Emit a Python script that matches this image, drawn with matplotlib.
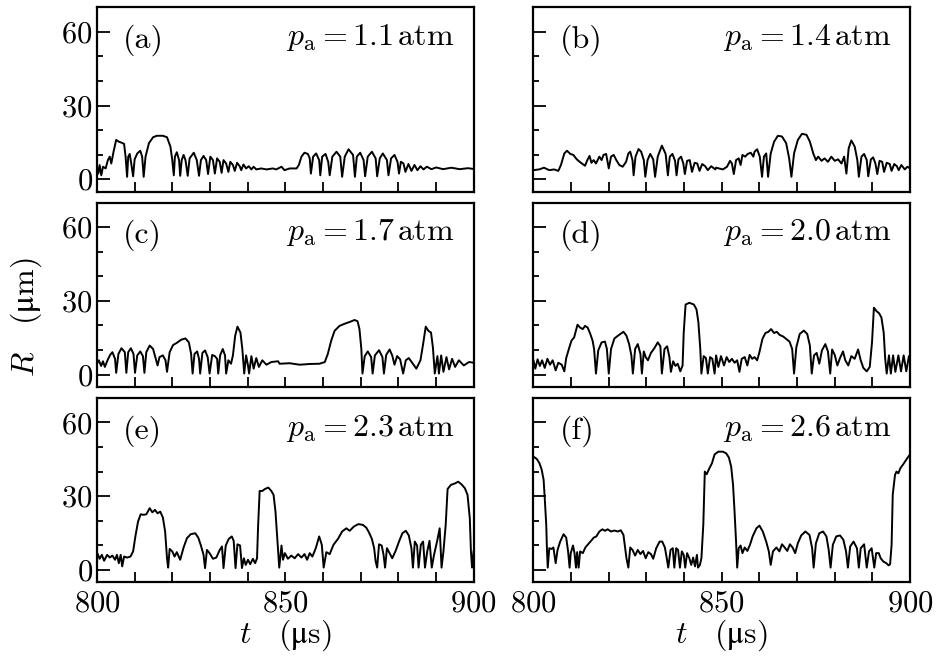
import matplotlib
matplotlib.use("Agg")
import matplotlib.pyplot as plt
from matplotlib.ticker import MultipleLocator

# bubble radius R (um) against time t (us)
t_a = [800.0, 800.35, 800.7, 801.15, 801.6, 802.3, 802.9, 803.4, 803.8, 804.4, 805.1, 805.8, 806.5, 807.2,
       807.6, 808.0, 808.3, 808.7, 809.1, 809.6, 810.0, 810.7, 811.5, 812.0, 812.4, 812.9, 813.8, 814.9,
       815.9, 817.5, 818.6, 819.5, 820.0, 820.4, 820.7, 821.2, 821.8, 822.1, 822.5, 823.0, 823.5, 824.1,
       824.6, 825.7, 826.5, 827.1, 827.6, 828.3, 829.0, 829.5, 830.1, 830.8, 831.3, 831.9, 832.6, 833.1,
       833.6, 834.3, 834.9, 835.4, 836.1, 836.6, 837.2, 837.9, 838.3, 838.9, 839.6, 840.3, 841.0, 841.6,
       842.3, 843.6, 845.0, 846.7, 847.6, 849.0, 849.8, 851.2, 853.0, 853.6, 854.3, 855.1, 856.0, 856.5,
       856.8, 857.4, 858.2, 859.0, 859.3, 859.8, 860.7, 861.4, 861.8, 862.5, 863.6, 864.6, 865.1, 865.8,
       866.8, 868.0, 868.5, 869.0, 869.9, 870.8, 871.2, 871.9, 873.0, 874.0, 874.4, 875.1, 875.9, 877.0,
       877.4, 878.1, 879.0, 879.8, 880.2, 880.7, 881.4, 881.9, 882.7, 883.5, 884.3, 885.1, 885.9, 886.7,
       887.6, 888.8, 890.1, 891.9, 894.1, 896.3, 898.5, 900.0]
r_a = [5.1, 2.3, 5.8, 1.6, 5.1, 4.4, 7.8, 9.2, 6.4, 11.2, 16.0, 15.3, 14.9, 14.4,
       9.2, 1.0, 9.2, 10.3, 6.4, 1.2, 8.1, 10.5, 11.6, 9.2, 1.0, 9.2, 14.7, 17.1,
       17.7, 17.7, 17.1, 13.3, 7.8, 1.6, 9.2, 11.0, 7.8, 1.4, 7.8, 9.9, 7.8, 1.4,
       8.5, 10.8, 7.8, 1.4, 7.8, 9.5, 7.8, 2.1, 9.2, 7.8, 2.3, 8.5, 7.1, 2.6,
       7.8, 6.4, 3.0, 7.1, 5.8, 3.4, 6.7, 5.3, 3.7, 6.0, 4.4, 5.3, 4.0, 5.1,
       4.0, 4.4, 4.0, 4.4, 4.0, 5.1, 3.7, 4.4, 4.4, 5.8, 9.2, 10.8, 10.3, 8.5,
       2.3, 9.2, 10.5, 7.8, 1.6, 9.2, 10.3, 7.1, 1.6, 9.2, 11.2, 9.2, 1.0, 9.2,
       12.2, 9.9, 1.0, 9.2, 10.8, 7.8, 1.2, 9.2, 11.2, 8.5, 1.2, 8.5, 10.5, 7.8,
       1.6, 8.5, 9.9, 7.1, 2.3, 7.1, 6.4, 3.0, 6.2, 3.4, 5.8, 3.7, 5.3, 4.0,
       5.1, 4.1, 4.8, 4.1, 4.7, 4.1, 4.5, 4.2]

t_b = [800.0, 801.5, 802.8, 804.2, 805.5, 806.6, 807.3, 808.2, 808.9, 809.8, 810.6, 811.5, 812.6, 813.7,
       814.4, 814.9, 815.4, 816.0, 816.6, 817.5, 818.1, 818.6, 819.3, 820.0, 820.6, 821.3, 822.0, 822.8,
       823.7, 824.6, 825.2, 825.7, 826.3, 826.6, 827.1, 827.9, 828.6, 829.3, 829.7, 830.3, 831.0, 831.8,
       832.3, 833.0, 834.1, 835.1, 835.7, 836.2, 836.9, 837.6, 838.0, 838.5, 839.2, 839.8, 840.2, 840.8,
       841.5, 842.1, 842.8, 843.5, 844.1, 844.8, 845.6, 846.3, 847.2, 848.3, 848.5, 850.3, 851.4, 852.2,
       852.7, 853.2, 853.8, 854.5, 855.0, 855.5, 856.2, 856.9, 857.7, 858.4, 858.7, 859.4, 860.1, 860.7,
       861.2, 861.8, 862.3, 863.0, 863.9, 864.9, 866.0, 867.1, 867.9, 868.5, 869.2, 870.2, 871.3, 872.5,
       873.4, 874.3, 875.0, 875.6, 876.5, 877.3, 878.2, 879.1, 880.0, 880.9, 881.8, 882.5, 883.1, 883.7,
       884.4, 885.3, 886.0, 886.4, 887.1, 887.8, 888.5, 888.9, 889.6, 890.2, 890.8, 891.3, 891.9, 892.6,
       893.1, 893.8, 894.6, 895.1, 895.8, 896.5, 897.0, 897.7, 898.6, 899.3, 900.0]
r_b = [3.7, 4.0, 4.7, 3.7, 4.0, 3.4, 5.8, 10.5, 11.6, 10.3, 9.9, 8.1, 6.7, 5.5,
       8.1, 9.5, 6.7, 7.8, 6.4, 9.2, 7.8, 9.9, 10.3, 4.4, 9.2, 9.9, 7.8, 5.8,
       5.1, 7.1, 10.5, 11.2, 7.8, 1.6, 9.2, 12.3, 11.2, 7.8, 1.0, 7.8, 10.3, 8.1,
       1.0, 9.2, 13.7, 10.3, 1.6, 9.2, 10.3, 7.5, 1.6, 8.1, 9.2, 6.4, 2.1, 7.5,
       7.8, 3.0, 6.7, 6.4, 3.4, 6.2, 5.3, 3.7, 5.3, 4.0, 4.7, 4.0, 5.1, 7.5,
       6.4, 2.1, 7.8, 8.5, 5.8, 9.9, 9.2, 10.3, 10.8, 9.2, 11.2, 12.2, 9.2, 1.0,
       9.2, 10.5, 1.0, 10.5, 15.3, 17.7, 17.4, 14.7, 8.5, 1.0, 10.5, 16.0, 18.5, 18.1,
       15.3, 10.5, 7.8, 9.2, 7.5, 8.5, 7.1, 9.2, 7.5, 8.1, 6.4, 9.2, 2.3, 12.6,
       15.8, 13.3, 7.8, 1.0, 9.2, 10.3, 7.8, 1.2, 8.1, 8.9, 6.4, 2.1, 7.5, 7.1,
       3.0, 6.7, 6.2, 3.4, 6.2, 5.3, 3.7, 5.8, 4.0, 5.1, 4.4]

t_c = [800.0, 800.5, 801.1, 801.6, 802.1, 802.8, 803.5, 804.1, 804.8, 805.1, 805.7, 806.5, 807.4, 807.8,
       808.3, 809.0, 809.7, 810.1, 810.7, 811.5, 812.2, 812.6, 813.1, 814.0, 814.9, 815.6, 816.1, 816.6,
       817.5, 818.2, 818.6, 819.3, 820.2, 821.2, 822.4, 823.5, 824.4, 825.0, 825.4, 825.9, 826.6, 827.1,
       827.4, 828.0, 828.7, 829.4, 829.9, 830.6, 831.3, 831.9, 832.2, 832.7, 833.4, 834.0, 834.3, 834.9,
       835.6, 836.1, 836.7, 837.3, 838.1, 838.6, 839.1, 839.6, 840.1, 840.4, 841.0, 841.6, 842.3, 843.0,
       843.9, 845.0, 846.3, 848.1, 848.5, 851.2, 853.8, 856.5, 859.1, 860.5, 861.3, 862.2, 863.1, 864.4,
       865.8, 867.1, 868.4, 869.2, 869.7, 870.2, 870.5, 871.1, 871.9, 872.8, 873.2, 873.8, 874.9, 875.8,
       876.2, 876.8, 877.7, 878.4, 879.0, 879.7, 880.5, 881.3, 882.0, 882.8, 883.7, 884.8, 885.9, 886.6,
       887.3, 888.0, 888.7, 889.2, 889.7, 890.4, 890.8, 891.4, 892.0, 892.8, 893.5, 894.3, 895.1, 896.1,
       897.4, 898.8, 900.0]
r_c = [4.4, 5.8, 3.5, 5.4, 3.1, 5.8, 8.0, 9.1, 6.4, 0.7, 8.4, 10.7, 9.1, 0.7,
       9.1, 10.7, 8.4, 0.7, 7.8, 9.4, 7.5, 0.7, 9.1, 11.8, 10.4, 6.4, 3.7, 7.1,
       7.8, 5.8, 1.1, 9.1, 12.0, 12.9, 14.2, 14.7, 13.1, 8.4, 0.4, 8.4, 9.4, 6.4,
       0.4, 8.8, 9.8, 7.1, 0.4, 8.0, 7.5, 6.4, 0.4, 7.8, 10.4, 7.8, 0.4, 5.8,
       4.4, 7.8, 15.8, 19.5, 17.1, 10.4, 0.4, 7.8, 3.7, 0.4, 7.5, 2.4, 6.7, 3.1,
       5.8, 4.0, 5.1, 5.4, 4.4, 4.6, 4.0, 4.3, 4.4, 5.1, 8.4, 13.8, 17.8, 19.8,
       20.7, 21.4, 22.2, 21.7, 18.5, 10.4, 0.4, 7.5, 9.4, 7.1, 0.4, 7.8, 9.9, 7.1,
       0.4, 8.0, 10.2, 7.8, 4.0, 7.5, 6.2, 0.4, 5.8, 6.7, 4.8, 2.4, 5.8, 12.4,
       19.5, 17.8, 17.1, 11.1, 0.4, 7.5, 0.4, 7.8, 1.1, 7.1, 2.1, 6.4, 3.1, 5.8,
       3.7, 5.1, 4.8]

t_d = [800.0, 800.5, 801.1, 801.7, 802.3, 803.0, 803.7, 804.4, 805.1, 805.9, 806.6, 807.5, 808.2, 808.7,
       809.4, 810.1, 810.8, 811.7, 812.4, 813.1, 813.7, 814.4, 815.1, 815.7, 816.1, 816.6, 817.2, 818.1,
       819.0, 819.5, 820.0, 820.6, 821.5, 822.7, 823.9, 824.7, 825.4, 826.0, 826.4, 827.0, 827.7, 828.4,
       828.8, 829.3, 829.8, 830.4, 831.2, 832.1, 833.0, 833.7, 834.1, 834.8, 835.5, 836.1, 836.5, 837.1,
       837.7, 838.3, 839.0, 839.6, 839.9, 840.4, 841.4, 842.6, 843.3, 843.8, 844.3, 844.6, 845.2, 845.8,
       846.3, 846.9, 847.5, 848.1, 848.5, 849.1, 849.8, 850.6, 851.3, 852.0, 852.7, 853.4, 854.1, 854.7,
       855.3, 856.1, 856.8, 857.4, 858.1, 858.7, 859.4, 860.0, 860.8, 861.6, 862.4, 863.1, 863.9, 864.6,
       865.4, 866.3, 867.1, 868.0, 868.7, 869.2, 869.8, 870.7, 871.8, 872.7, 873.4, 873.9, 874.5, 875.2,
       875.9, 876.6, 877.5, 878.2, 878.8, 879.3, 880.0, 880.7, 881.4, 882.2, 882.8, 883.6, 884.4, 885.3,
       886.2, 886.9, 887.6, 888.5, 889.3, 889.9, 890.4, 891.1, 891.8, 892.4, 893.0, 893.4, 893.8, 894.4,
       894.9, 895.5, 896.1, 896.9, 897.6, 898.3, 899.0, 899.7, 900.0]
r_d = [5.8, 2.4, 6.2, 3.5, 5.8, 2.7, 6.4, 4.0, 5.8, 1.7, 4.8, 4.0, 1.3, 6.7,
       10.4, 13.8, 15.1, 20.3, 19.1, 18.5, 19.8, 19.1, 16.5, 13.8, 10.4, 0.4, 9.8, 13.1,
       13.4, 10.4, 0.4, 10.4, 14.7, 16.1, 17.4, 15.8, 12.4, 7.8, 0.4, 10.4, 12.4, 8.4,
       0.4, 9.4, 7.1, 5.8, 8.8, 10.7, 13.1, 11.5, 0.4, 10.4, 11.5, 7.1, 1.1, 5.4,
       3.5, 4.4, 1.3, 3.7, 17.1, 28.5, 29.2, 28.5, 26.5, 21.2, 10.4, 0.4, 7.5, 6.7,
       0.4, 7.1, 6.4, 0.4, 7.8, 3.1, 7.5, 3.7, 7.1, 5.1, 6.4, 4.8, 5.8, 1.1,
       6.4, 7.1, 3.7, 8.0, 6.4, 7.1, 5.8, 9.1, 14.5, 16.9, 17.4, 18.5, 16.9, 17.4,
       16.1, 15.5, 14.5, 13.4, 10.4, 0.4, 11.1, 16.5, 17.9, 16.5, 11.8, 0.4, 7.8, 8.8,
       4.4, 9.8, 12.4, 9.4, 0.4, 10.2, 8.0, 3.7, 6.7, 9.4, 5.8, 3.7, 7.5, 6.4,
       10.2, 5.8, 2.7, 1.3, 3.1, 13.1, 27.2, 25.8, 24.9, 23.2, 17.1, 6.4, 0.4, 7.8,
       0.4, 7.8, 1.1, 7.8, 1.3, 7.8, 1.3, 7.5, 6.4]

t_e = [800.2, 800.7, 801.3, 801.9, 802.7, 803.4, 804.1, 804.8, 805.3, 805.8, 806.3, 806.7, 807.2, 808.0,
       808.9, 809.6, 810.2, 810.9, 811.6, 812.4, 813.1, 814.0, 814.7, 815.4, 816.1, 816.8, 817.5, 818.1,
       818.6, 818.9, 819.3, 820.0, 820.6, 821.2, 822.1, 823.0, 823.9, 824.9, 826.1, 826.9, 827.6, 828.3,
       828.7, 829.2, 829.9, 830.8, 831.7, 832.6, 833.2, 833.6, 834.2, 835.0, 835.8, 836.3, 836.8, 837.3,
       838.0, 838.5, 839.0, 839.5, 840.1, 840.7, 841.4, 842.0, 842.5, 842.8, 843.2, 843.9, 844.6, 845.5,
       846.3, 846.9, 847.4, 848.0, 848.4, 849.0, 849.4, 849.9, 850.7, 851.6, 852.5, 853.4, 854.3, 855.1,
       855.8, 856.5, 857.2, 858.1, 859.0, 859.7, 860.2, 860.9, 861.8, 862.8, 864.0, 865.1, 866.2, 867.1,
       868.2, 869.4, 870.6, 871.5, 872.2, 873.0, 873.6, 874.0, 874.4, 874.9, 875.6, 876.1, 876.5, 877.0,
       877.7, 878.4, 879.3, 880.2, 881.1, 882.0, 882.8, 883.5, 883.9, 884.4, 885.0, 885.4, 886.0, 886.6,
       887.1, 887.7, 888.3, 888.9, 889.5, 890.3, 891.0, 891.5, 892.0, 892.6, 893.1, 894.0, 895.1, 895.9,
       896.8, 897.7, 898.4, 899.0, 899.3, 899.6, 900.0]
r_e = [6.4, 4.5, 6.1, 3.7, 6.1, 5.0, 5.8, 4.1, 6.1, 2.7, 6.1, 1.4, 5.4, 5.0,
       5.4, 7.5, 13.6, 19.6, 22.6, 22.4, 22.6, 25.1, 23.4, 24.4, 23.0, 23.7, 21.3, 15.6,
       4.7, 0.9, 8.5, 7.5, 5.4, 7.2, 4.1, 9.1, 12.9, 14.5, 14.9, 13.1, 9.9, 6.1,
       0.7, 8.1, 6.8, 4.5, 5.0, 8.1, 9.5, 0.7, 9.9, 12.6, 13.6, 11.8, 0.7, 10.4,
       9.9, 0.7, 4.7, 2.0, 4.1, 2.3, 4.5, 2.7, 4.7, 18.3, 32.1, 32.1, 32.9, 33.5,
       32.1, 30.5, 23.7, 10.2, 0.9, 9.9, 4.1, 6.8, 4.5, 5.8, 4.7, 6.4, 5.0, 6.4,
       4.1, 6.8, 5.4, 8.8, 13.6, 10.2, 0.9, 7.2, 6.4, 10.2, 12.6, 15.6, 16.9, 15.9,
       17.6, 18.6, 18.3, 17.2, 15.3, 12.6, 8.8, 3.4, 0.9, 10.4, 9.9, 6.1, 0.9, 8.8,
       6.8, 4.7, 7.7, 11.5, 14.9, 15.9, 14.0, 8.8, 0.9, 11.5, 9.9, 0.9, 10.2, 11.5,
       0.9, 7.5, 11.8, 0.9, 6.1, 11.5, 16.9, 0.9, 7.5, 18.3, 32.9, 34.6, 35.2, 35.9,
       34.8, 33.2, 30.5, 21.0, 7.5, 0.9, 7.5]

t_f = [800.0, 800.9, 801.6, 802.2, 802.7, 803.0, 803.4, 803.6, 803.8, 804.2, 804.8, 805.3, 805.9, 806.4,
       807.1, 808.0, 808.7, 809.2, 809.6, 809.9, 810.5, 810.9, 811.3, 811.6, 812.0, 812.4, 813.1, 813.8,
       814.5, 815.3, 816.0, 816.7, 817.5, 818.3, 819.0, 819.7, 820.6, 821.5, 822.4, 823.2, 823.9, 824.3,
       824.7, 825.2, 825.7, 826.3, 827.0, 827.7, 828.4, 829.1, 829.8, 830.5, 831.2, 831.8, 832.6, 833.5,
       834.2, 834.9, 835.4, 835.8, 836.4, 837.0, 837.4, 837.9, 838.4, 838.9, 839.4, 839.9, 840.3, 840.8,
       841.4, 841.9, 842.4, 842.9, 843.4, 843.7, 844.2, 844.6, 845.1, 845.5, 846.0, 846.7, 847.4, 848.1,
       849.1, 850.3, 851.2, 851.9, 852.5, 853.0, 853.4, 853.8, 854.1, 854.5, 855.0, 855.5, 856.1, 856.8,
       857.5, 858.2, 859.2, 860.0, 860.9, 861.8, 862.5, 863.0, 863.6, 864.5, 865.3, 866.0, 866.7, 867.4,
       868.1, 868.8, 869.5, 870.2, 871.1, 872.2, 873.3, 874.0, 874.4, 875.0, 875.9, 876.9, 877.8, 878.4,
       878.9, 879.5, 880.4, 881.4, 882.3, 883.0, 883.5, 884.1, 885.0, 885.9, 886.4, 886.9, 887.8, 888.5,
       889.1, 889.8, 890.5, 891.0, 891.7, 892.2, 892.9, 893.7, 894.3, 894.7, 895.1, 895.4, 896.0, 896.4,
       896.9, 897.4, 898.2, 899.1, 900.0]
r_f = [46.1, 45.1, 43.4, 40.7, 36.6, 29.1, 18.3, 7.5, 0.9, 8.8, 8.5, 9.1, 2.7, 8.1,
       11.5, 14.5, 13.1, 7.5, 0.9, 6.8, 9.9, 6.8, 0.9, 7.2, 0.9, 7.5, 6.8, 9.1,
       10.4, 11.8, 13.1, 13.6, 15.6, 16.5, 15.9, 16.5, 15.6, 16.0, 15.6, 16.1, 14.2, 9.5,
       4.7, 0.9, 9.1, 8.1, 5.8, 8.1, 6.4, 7.7, 4.7, 7.2, 6.4, 4.5, 8.8, 11.5,
       11.5, 9.1, 4.7, 0.9, 8.1, 8.8, 0.9, 8.8, 8.1, 0.9, 7.5, 6.1, 0.9, 6.8,
       4.7, 2.0, 5.0, 1.4, 6.1, 0.9, 2.0, 4.7, 18.3, 40.0, 38.9, 41.3, 43.4, 47.0,
       48.1, 48.1, 47.4, 45.7, 42.0, 34.6, 23.7, 11.5, 0.9, 8.8, 9.9, 6.8, 9.1, 7.7,
       10.2, 13.6, 16.9, 18.0, 15.6, 11.5, 7.5, 2.0, 7.5, 9.1, 7.5, 10.4, 9.1, 7.7,
       10.4, 9.1, 6.8, 10.8, 14.0, 15.6, 14.2, 8.8, 0.9, 10.8, 14.9, 15.6, 13.6, 8.1,
       0.9, 10.2, 13.6, 14.0, 12.2, 7.5, 0.9, 9.5, 11.5, 8.8, 0.9, 8.8, 10.4, 0.9,
       7.5, 8.8, 0.9, 6.8, 6.8, 4.7, 3.4, 2.7, 1.8, 2.3, 10.2, 30.5, 38.6, 40.0,
       39.3, 41.3, 43.0, 45.1, 47.0]

panel_t = [t_a, t_b, t_c, t_d, t_e, t_f]
panel_r = [r_a, r_b, r_c, r_d, r_e, r_f]
letters = ["(a)", "(b)", "(c)", "(d)", "(e)", "(f)"]
pressures = ["1.1", "1.4", "1.7", "2.0", "2.3", "2.6"]

plt.rcParams["font.family"] = ["cmr10", "DejaVu Serif"]
plt.rcParams["mathtext.fontset"] = "cm"
plt.rcParams["axes.unicode_minus"] = False
plt.rcParams["axes.formatter.use_mathtext"] = True

fig, axes = plt.subplots(3, 2, figsize=(9.46, 6.63), dpi=100, sharex=True, sharey=True)
fig.subplots_adjust(left=0.1025, right=0.962, bottom=0.122, top=0.989, wspace=0.159, hspace=0.06)

for i, ax in enumerate(axes.flat):
    ax.plot(panel_t[i], panel_r[i], color="k", lw=1.4)
    ax.set_xlim(800, 900)
    ax.set_ylim(-5, 70)
    ax.xaxis.set_major_locator(MultipleLocator(50))
    ax.xaxis.set_minor_locator(MultipleLocator(10))
    ax.yaxis.set_major_locator(MultipleLocator(30))
    ax.yaxis.set_minor_locator(MultipleLocator(10))
    ax.tick_params(which="both", direction="in", top=False, right=False, labelsize=22, width=1.3)
    ax.tick_params(axis="x", which="both", length=7, pad=6)
    ax.tick_params(axis="y", which="major", length=9, pad=3)
    ax.tick_params(axis="y", which="minor", length=4.5)
    for sp in ax.spines.values():
        sp.set_linewidth(1.6)
    ax.text(0.069, 0.78, letters[i], transform=ax.transAxes, fontsize=23)
    ax.text(0.95, 0.795, r"$p_{\mathrm{a}} = " + pressures[i] + r"\,\mathrm{atm}$",
            transform=ax.transAxes, fontsize=23, ha="right")

for ax in axes[2]:
    ax.set_xlabel(r"$t\quad(\mathrm{μs})$", fontsize=23, labelpad=0)

fig.text(0.028, 0.522, r"$R\quad(\mathrm{μm})$", rotation=90, fontsize=23, ha="center", va="center")

fig.savefig("out.png", dpi=100)
